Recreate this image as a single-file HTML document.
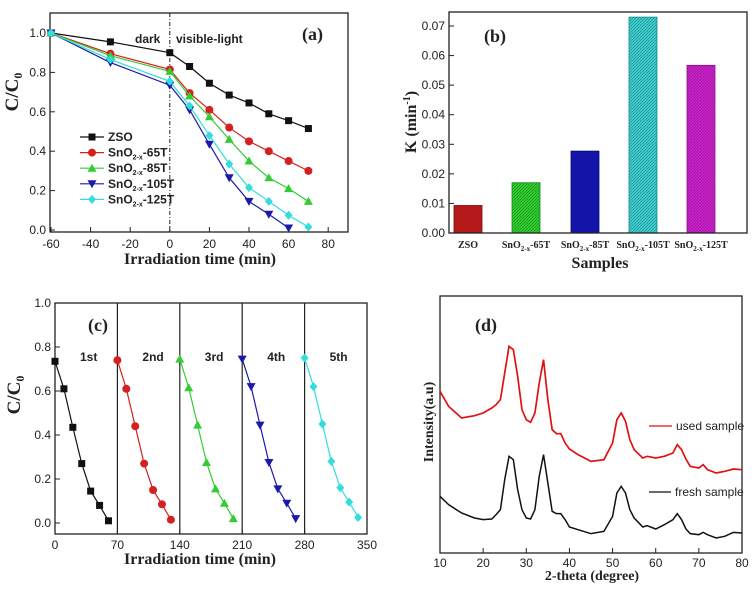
<!DOCTYPE html>
<html><head><meta charset="utf-8">
<style>
html,body{margin:0;padding:0;background:#fff;}
svg{display:block;}
.t{font-family:"Liberation Sans",sans-serif;font-size:12px;fill:#222;}
.s{font-family:"Liberation Serif",serif;font-weight:bold;fill:#222;}
</style></head>
<body>
<svg id="fig" width="754" height="589" viewBox="0 0 754 589" xmlns="http://www.w3.org/2000/svg">
<defs>
<pattern id="hg" width="3" height="3" patternUnits="userSpaceOnUse"><rect width="3" height="3" fill="#33cc33"/><path d="M0 3L3 0" stroke="#118811" stroke-width="0.6"/></pattern>
<pattern id="hc" width="3" height="3" patternUnits="userSpaceOnUse"><rect width="3" height="3" fill="#44cccc"/><path d="M0 3L3 0" stroke="#118888" stroke-width="0.6"/></pattern>
<pattern id="hm" width="3" height="3" patternUnits="userSpaceOnUse"><rect width="3" height="3" fill="#cc22cc"/><path d="M0 3L3 0" stroke="#881188" stroke-width="0.6"/></pattern>
</defs>
</svg>
<script>
// ---- Panel (a) data
const aTimes=[-60,-30,0,10,20,30,40,50,60,70];
const aZSO=[1,0.955,0.90,0.83,0.745,0.685,0.645,0.59,0.555,0.515];
const a65=[1,0.895,0.815,0.695,0.61,0.52,0.45,0.40,0.35,0.30];
const a85=[1,0.885,0.805,0.68,0.575,0.46,0.35,0.265,0.21,0.145];
const a105=[1,0.85,0.735,0.61,0.435,0.265,0.145,0.08,0.01];
const a125=[1,0.865,0.755,0.63,0.48,0.335,0.215,0.145,0.075,0.015];
const aXTicks=[-60,-40,-20,0,20,40,60,80];
const aYTicks=[0.0,0.2,0.4,0.6,0.8,1.0];
// ---- Panel (b) data
const bCats=["ZSO","65T","85T","105T","125T"];
const bVals=[0.0093,0.017,0.0277,0.073,0.0567];
const bYTicks=[0,0.01,0.02,0.03,0.04,0.05,0.06,0.07];
// ---- Panel (c) data
const cCycles=["1st","2nd","3rd","4th","5th"];
const cOffsets=[0,70,140,210,280];
const cStepTimes=[0,10,20,30,40,50,60];
const c1=[0.735,0.61,0.435,0.27,0.145,0.08,0.01];
const c2=[0.74,0.61,0.44,0.27,0.15,0.085,0.015];
const c3=[0.745,0.615,0.445,0.275,0.155,0.09,0.02];
const c4=[0.745,0.62,0.445,0.275,0.155,0.09,0.02];
const c5=[0.75,0.62,0.45,0.28,0.16,0.095,0.025];
const cXTicks=[0,70,140,210,280,350];
const cYTicks=[0.0,0.2,0.4,0.6,0.8,1.0];
// ---- Panel (d) data
const dTheta=[10,12,15,18,20,22,23,24,25,26,27,28,29,30,31,32,33,34,35,36,37,38,39,40,42,45,48,50,51,52,53,54,55,57,58,60,62,64,65,66,67,68,70,71,72,74,76,78,80];
const dFresh=[170,145,120,105,100,102,115,130,220,290,280,190,130,105,102,130,230,295,210,125,118,118,100,78,70,58,65,110,180,200,180,130,105,78,82,72,85,100,118,100,72,58,55,62,55,45,50,62,60];
const dUsed=[485,440,405,412,420,435,445,460,540,620,610,530,430,400,392,420,510,580,460,370,358,358,330,312,295,275,280,330,400,420,395,340,310,285,290,285,290,300,325,310,282,260,255,265,250,240,245,252,250];
const dXTicks=[10,20,30,40,50,60,70,80];

const svg=document.getElementById('fig');
const NS='http://www.w3.org/2000/svg';
function el(tag,attrs,parent){const e=document.createElementNS(NS,tag);for(const k in attrs)e.setAttribute(k,attrs[k]);(parent||svg).appendChild(e);return e;}
function txt(x,y,s,cls,extra,parent){const e=el('text',Object.assign({x:x,y:y,class:cls},extra||{}),parent);e.textContent=s;return e;}
function lin(d0,d1,r0,r1){return v=>r0+(v-d0)/(d1-d0)*(r1-r0);}
function marker(g,shape,x,y,c){
  let m;
  if(shape==='sq')m=el('rect',{x:x-3.5,y:y-3.5,width:7,height:7,fill:c},g);
  else if(shape==='ci')m=el('circle',{cx:x,cy:y,r:4,fill:c},g);
  else if(shape==='tu')m=el('polygon',{points:`${x},${y-4.5} ${x-4.5},${y+3.5} ${x+4.5},${y+3.5}`,fill:c},g);
  else if(shape==='td')m=el('polygon',{points:`${x},${y+4.5} ${x-4.5},${y-3.5} ${x+4.5},${y-3.5}`,fill:c},g);
  else m=el('polygon',{points:`${x},${y-4.5} ${x+4},${y} ${x},${y+4.5} ${x-4},${y}`,fill:c},g);
  
  
}
function series(g,xs,ys,fx,fy,c,shape,name){
  const sg=el('g',{},g);
  
  
  const pts=ys.map((v,i)=>fx(xs[i])+','+fy(v)).join(' ');
  el('polyline',{points:pts,fill:'none',stroke:c,'stroke-width':1.2},sg);
  ys.forEach((v,i)=>marker(sg,shape,fx(xs[i]),fy(v),c));
}
function frame(g,L,T,R,B){el('rect',{x:L,y:T,width:R-L,height:B-T,fill:'none',stroke:'#222','stroke-width':1.3},g);}

// ================= Panel (a)
(function(){
  const g=el('g',{});
  const L=50,R=348,T=13,B=232;
  const fx=lin(-60,90,51,348), fy=lin(0,1,230,33);
  frame(g,L,T,R,B);
  aXTicks.forEach(v=>{el('line',{x1:fx(v),x2:fx(v),y1:B,y2:B-5,stroke:'#222'},g);txt(fx(v),248,String(v),'t',{'text-anchor':'middle'},g);});
  aYTicks.forEach(v=>{el('line',{x1:L,x2:L+5,y1:fy(v),y2:fy(v),stroke:'#222'},g);txt(L-4,fy(v)+4,v.toFixed(1),'t',{'text-anchor':'end'},g);});
  el('line',{x1:fx(0),x2:fx(0),y1:T,y2:B,stroke:'#222','stroke-dasharray':'4,2,1,2'},g);
  txt(135,43,'dark','t',{'font-weight':'bold'},g);
  txt(176,43,'visible-light','t',{'font-weight':'bold'},g);
  txt(302,40,'(a)','s',{'font-size':'18','font-weight':'normal'},g);
  const S=[[aZSO,'#111','sq','series-zso','ZSO'],[a65,'#d42020','ci','series-65t','-65T'],[a85,'#33cc33','tu','series-85t','-85T'],[a105,'#1a1aaa','td','series-105t','-105T'],[a125,'#33dddd','di','series-125t','-125T']];
  S.forEach(s=>series(g,aTimes,s[0],fx,fy,s[1],s[2],s[3]));
  S.forEach((s,i)=>{const y=137+i*15.6;
    const lg=el('g',{},g);
    el('line',{x1:80,x2:104,y1:y,y2:y,stroke:s[1],'stroke-width':1.2},lg);marker(lg,s[2],92,y,s[1]);
    const t=txt(108,y+4,'','t',{'font-weight':'bold','font-size':'11.5'},lg);
    if(i===0)t.textContent='ZSO';else t.innerHTML='SnO<tspan dy="3" font-size="7">2-x</tspan><tspan dy="-3">'+s[4]+'</tspan>';
  });
  txt(18,92,'C/C','s',{'font-size':'19','transform':'rotate(-90 18 92)','text-anchor':'middle','x':18,'y':92,'dy':'0'},g).innerHTML='C/C<tspan dy="4" font-size="12">0</tspan>';
  txt(200,264,'Irradiation time (min)','s',{'font-size':'16','text-anchor':'middle'},g);
})();

// ================= Panel (b)
(function(){
  const g=el('g',{});
  const L=449,R=747,T=12,B=233;
  const fy=lin(0,0.07,233,26);
  const centers=[468,526,585,643,701]; const bw=28;
  const fills=['#b51818','url(#hg)','#1414a8','url(#hc)','url(#hm)'];
  const strokes=['#7a0e0e','#118811','#0a0a70','#118888','#881188'];
  bVals.forEach((v,i)=>{const r=el('rect',{x:centers[i]-bw/2,y:fy(v),width:bw,height:B-fy(v),fill:fills[i],stroke:strokes[i],'stroke-width':0.8},g);
    });
  frame(g,L,T,R,B);
  bYTicks.forEach(v=>{el('line',{x1:L,x2:L+5,y1:fy(v),y2:fy(v),stroke:'#222'},g);txt(L-4,fy(v)+4,v.toFixed(2),'t',{'text-anchor':'end'},g);});
  bCats.forEach((c,i)=>{const t=txt(centers[i],248,'','s',{'font-size':'10','text-anchor':'middle'},g);
    if(i===0)t.textContent='ZSO';else t.innerHTML='SnO<tspan dy="3" font-size="7">2-x</tspan><tspan dy="-3">-'+c+'</tspan>';});
  txt(600,268,'Samples','s',{'font-size':'16','text-anchor':'middle'},g);
  txt(484,42,'(b)','s',{'font-size':'18','font-weight':'normal'},g);
  const yt=txt(0,0,'','s',{'font-size':'16','text-anchor':'middle','transform':'translate(416 122) rotate(-90)'},g);
  yt.innerHTML='K (min<tspan dy="-6" font-size="10">-1</tspan><tspan dy="6">)</tspan>';
})();

// ================= Panel (c)
(function(){
  const g=el('g',{});
  const L=55,R=367,T=303,B=534;
  const fx=lin(0,350,55,367), fy=lin(0,1,523,303);
  frame(g,L,T,R,B);
  cXTicks.forEach(v=>{el('line',{x1:fx(v),x2:fx(v),y1:B,y2:B-5,stroke:'#222'},g);txt(fx(v),549,String(v),'t',{'text-anchor':'middle'},g);});
  cYTicks.forEach(v=>{el('line',{x1:L,x2:L+5,y1:fy(v),y2:fy(v),stroke:'#222'},g);txt(L-4,fy(v)+4,v.toFixed(1),'t',{'text-anchor':'end'},g);});
  cOffsets.slice(1).forEach(o=>el('line',{x1:fx(o),x2:fx(o),y1:T,y2:B,stroke:'#222','stroke-width':1.2},g));
  const S=[[c1,'#111','sq'],[c2,'#d42020','ci'],[c3,'#33cc33','tu'],[c4,'#1a1aaa','td'],[c5,'#33dddd','di']];
  S.forEach((s,i)=>{const xs=cStepTimes.map(t=>t+cOffsets[i]);series(g,xs,s[0],fx,fy,s[1],s[2],'series-cycle-'+(i+1));
    txt(fx(cOffsets[i])+25,361,cCycles[i],'t',{'font-weight':'bold'},g);});
  txt(88,331,'(c)','s',{'font-size':'18','font-weight':'normal'},g);
  const yt=txt(0,0,'','s',{'font-size':'19','text-anchor':'middle','transform':'translate(20 395) rotate(-90)'},g);
  yt.innerHTML='C/C<tspan dy="4" font-size="12">0</tspan>';
  txt(200,564,'Irradiation time (min)','s',{'font-size':'16','text-anchor':'middle'},g);
})();

// ================= Panel (d)
(function(){
  const g=el('g',{});
  const L=440,R=742,T=296,B=553;
  const fx=lin(10,80,440,742), fy=lin(0,771,553,296);
  frame(g,L,T,R,B);
  dXTicks.forEach(v=>{el('line',{x1:fx(v),x2:fx(v),y1:B,y2:B-5,stroke:'#222'},g);txt(fx(v),567,String(v),'t',{'text-anchor':'middle','font-size':'11'},g);});
  const u=el('polyline',{points:dUsed.map((v,i)=>fx(dTheta[i])+','+fy(v)).join(' '),fill:'none',stroke:'#e21010','stroke-width':1.7},g);
  
  const f=el('polyline',{points:dFresh.map((v,i)=>fx(dTheta[i])+','+fy(v)).join(' '),fill:'none',stroke:'#111','stroke-width':1.5},g);
  
  el('line',{x1:649,x2:672,y1:426,y2:426,stroke:'#e21010','stroke-width':1.2},g);
  txt(676,430,'used sample','t',{'font-size':'10.5'},g);
  el('line',{x1:649,x2:671,y1:492,y2:492,stroke:'#111','stroke-width':1.2},g);
  txt(675,496,'fresh sample','t',{'font-size':'10.5'},g);
  txt(475,331,'(d)','s',{'font-size':'18','font-weight':'normal'},g);
  txt(0,0,'Intensity(a.u)','s',{'font-size':'14','text-anchor':'middle','transform':'translate(433 422) rotate(-90)'},g);
  txt(592,580,'2-theta (degree)','s',{'font-size':'14','text-anchor':'middle'},g);
})();
</script>
</body></html>
